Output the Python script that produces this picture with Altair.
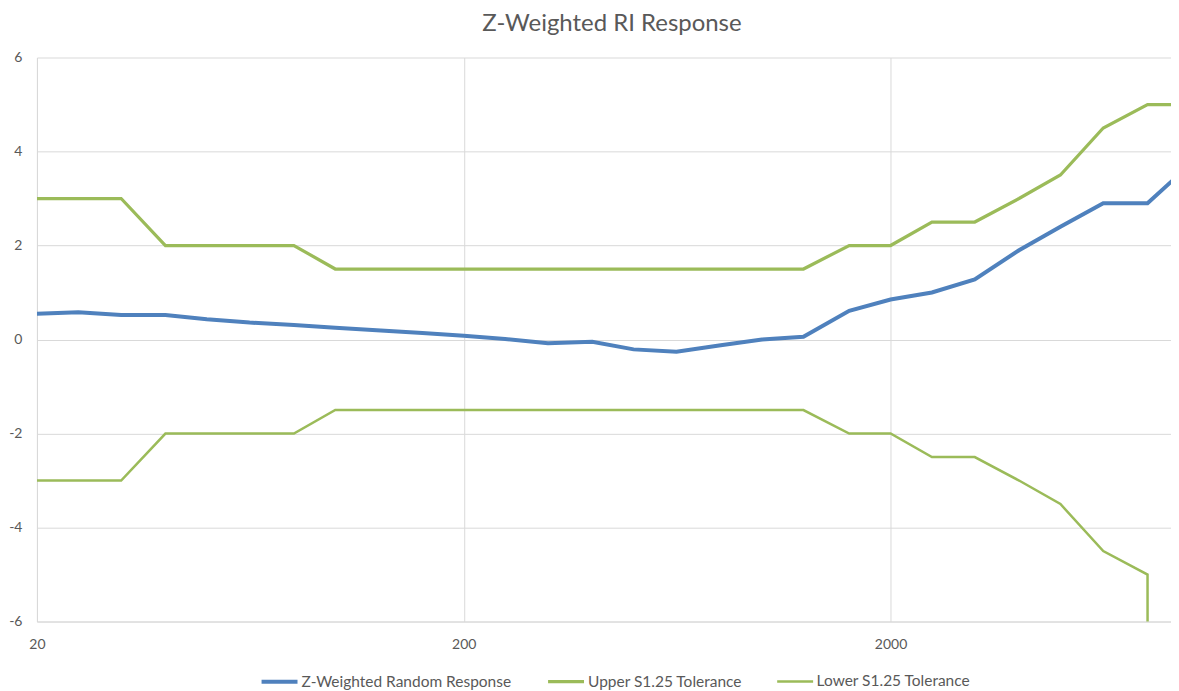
import altair as alt
import pandas as pd

freqs = [20, 25, 31.5, 40, 50, 63, 80, 100, 125, 160, 200, 250, 315, 400, 500,
         630, 800, 1000, 1250, 1600, 2000, 2500, 3150, 4000, 5000, 6300, 8000, 10000]
response = [0.55, 0.58, 0.52, 0.52, 0.43, 0.36, 0.31, 0.25, 0.195, 0.14, 0.08, 0.01,
            -0.08, -0.05, -0.21, -0.26, -0.12, 0.0, 0.06, 0.61, 0.85, 1.0, 1.28,
            1.9, 2.4, 2.9, 2.9, 3.7]
upper = [3, 3, 3, 2, 2, 2, 2, 1.5, 1.5, 1.5, 1.5, 1.5, 1.5, 1.5, 1.5, 1.5, 1.5, 1.5,
         1.5, 2, 2, 2.5, 2.5, 3, 3.5, 4.5, 5, 5]
lower = [-3, -3, -3, -2, -2, -2, -2, -1.5, -1.5, -1.5, -1.5, -1.5, -1.5, -1.5, -1.5,
         -1.5, -1.5, -1.5, -1.5, -2, -2, -2.5, -2.5, -3, -3.5, -4.5, -5, -1000]

series_names = ["Z-Weighted Random Response", "Upper S1.25 Tolerance", "Lower S1.25 Tolerance"]
series_colors = ["#4F81BD", "#9BBB59", "#9BBB59"]
series_widths = [4, 2.5, 2.5]

rows = []
for name, vals in zip(series_names, [response, upper, lower]):
    for f, v in zip(freqs, vals):
        rows.append({"freq": f, "value": v, "series": name})
df = pd.DataFrame(rows)

FONT = "Lato"
GRAY = "#595959"
GRID = "#D9D9D9"


def make_legend():
    return alt.Legend(title=None, orient="none", direction="horizontal",
                      legendX=223, legendY=605,
                      symbolType="stroke", symbolSize=1296,
                      labelFont=FONT, labelFontSize=15.5, labelColor=GRAY,
                      labelLimit=400, labelOffset=2, columnPadding=29)


chart = alt.Chart(df).mark_line(clip=True).encode(
    x=alt.X("freq:Q",
            scale=alt.Scale(type="log", domain=[20, 9080], nice=False),
            axis=alt.Axis(values=[20, 200, 2000], title=None, labelExpr="'' + datum.value",
                          grid=True, gridColor=GRID, ticks=False, tickSize=0,
                          labelPadding=16, labelFont=FONT, labelFontSize=14,
                          labelColor=GRAY, domainColor=GRID, labelFlush=False)),
    y=alt.Y("value:Q",
            scale=alt.Scale(domain=[-6, 6], nice=False, zero=False),
            axis=alt.Axis(values=[-6, -4, -2, 0, 2, 4, 6], title=None,
                          labelExpr="'' + datum.value",
                          grid=True, gridColor=GRID, ticks=False, tickSize=0,
                          labelPadding=15, labelFont=FONT, labelFontSize=14,
                          labelColor=GRAY, domainColor=GRID)),
    color=alt.Color("series:N", sort=series_names,
                    scale=alt.Scale(domain=series_names, range=series_colors),
                    legend=make_legend()),
    strokeWidth=alt.StrokeWidth("series:N", sort=series_names,
                                scale=alt.Scale(domain=series_names, range=series_widths),
                                legend=make_legend()),
).properties(
    width=1136,
    height=565,
    padding={"top": 3, "left": 0, "right": 0, "bottom": 0},
    title=alt.TitleParams("Z-Weighted RI Response", font=FONT, fontSize=24,
                          fontWeight="normal", color=GRAY, anchor="middle",
                          offset=15, dx=8),
).configure_view(strokeWidth=0)

chart.save("out.html", embed_options={"renderer": "svg", "actions": False})
